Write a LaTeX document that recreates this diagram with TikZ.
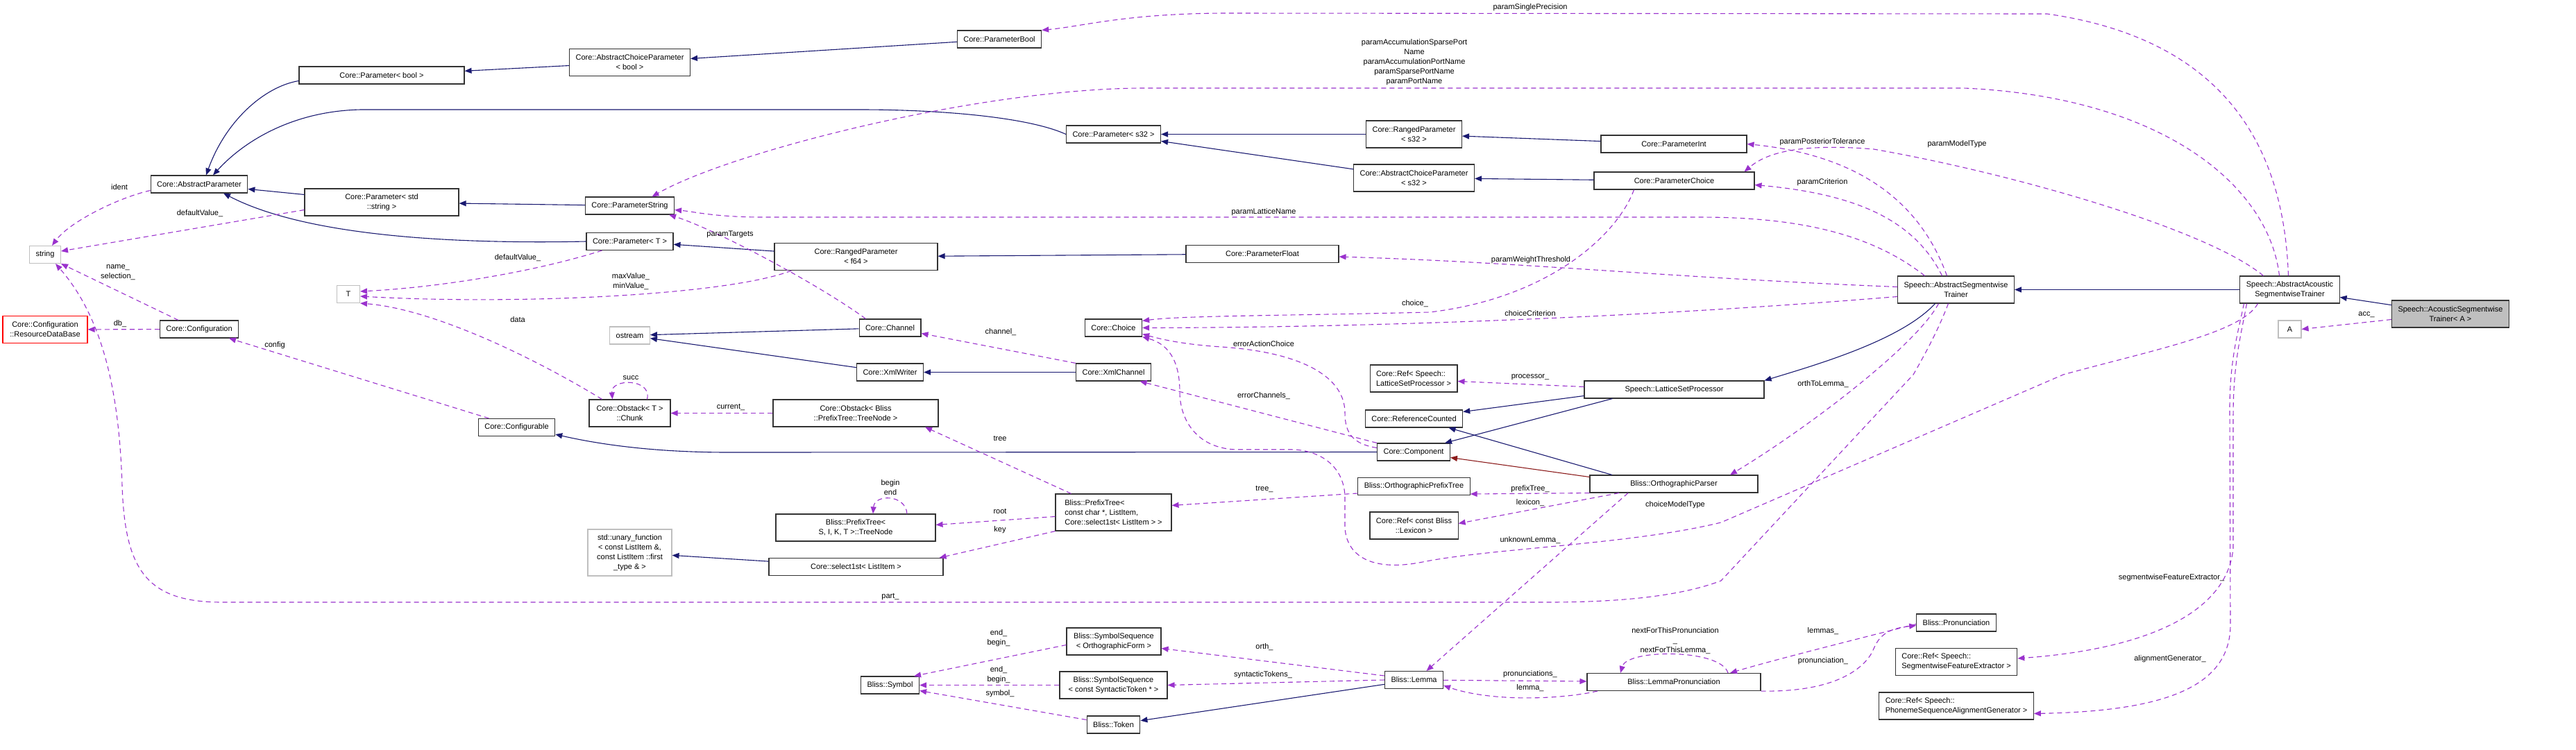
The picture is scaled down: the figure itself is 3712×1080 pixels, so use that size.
\documentclass[tikz,border=0pt]{standalone}
\usepackage{fontspec}
\setmainfont{Liberation Sans}
\usepackage{xcolor}
\usepackage{tikz}
\usetikzlibrary{arrows.meta, positioning}

\definecolor{inhblue}{HTML}{191970}
\definecolor{usepurple}{HTML}{9A32CD}
\definecolor{protred}{HTML}{8B1A1A}
\definecolor{extgray}{HTML}{BFBFBF}
\newcommand{\dgfont}{\fontsize{11}{14}\selectfont}

\begin{document}
\begin{tikzpicture}[
    x=1pt, y=-1pt,
    classnode/.style={rectangle, draw=black!80, line width=1.1pt, fill=white, font=\dgfont, inner xsep=9pt, inner ysep=0pt, minimum height=25pt, align=center},
    extnode/.style={classnode, draw=extgray},
    mainnode/.style={classnode, fill=extgray},
    missingnode/.style={classnode, draw=red},
    twolines/.style={minimum height=39pt},
    threelines/.style={minimum height=53pt},
    fourlines/.style={minimum height=67pt},
    inharr/.style={-{Triangle[length=10pt, width=8pt]}, line width=1.1pt, inhblue},
    protarr/.style={inharr, protred},
    usearr/.style={-{Triangle[length=10pt, width=8pt]}, line width=1.1pt, usepurple, dash pattern=on 7pt off 5pt},
    lbl/.style={font=\dgfont, inner sep=0pt, align=center}
]
\useasboundingbox (0,0) rectangle (3712,1080);

% Parameters
\node[classnode] (pbool) at (1440,56.5) {Core::ParameterBool};
\node[classnode, twolines] (acpbool) at (907.5,90) {Core::AbstractChoiceParameter\\< bool >};
\node[classnode, minimum width=238pt] (parbool) at (550,108.5) {Core::Parameter< bool >};
\node[classnode] (absparam) at (287,265.5) {Core::AbstractParameter};
\node[classnode] (pars32) at (1604.5,193.5) {Core::Parameter< s32 >};
\node[classnode, twolines] (rps32) at (2037.5,193.5) {Core::RangedParameter\\< s32 >};
\node[classnode, twolines] (acps32) at (2037.5,256.5) {Core::AbstractChoiceParameter\\< s32 >};
\node[classnode, minimum width=210pt] (pint) at (2412,207.5) {Core::ParameterInt};
\node[classnode, minimum width=231pt] (pchoice) at (2412.5,260.5) {Core::ParameterChoice};
\node[classnode, twolines, minimum width=222pt] (parstd) at (550,291.5) {Core::Parameter< std\\::string >};
\node[classnode] (pstring) at (907.5,296.5) {Core::ParameterString};
\node[classnode] (parT) at (907.5,348) {Core::Parameter< T >};
\node[classnode, twolines, minimum width=235pt] (rpf64) at (1233.5,370) {Core::RangedParameter\\< f64 >};
\node[classnode, minimum width=220pt] (pfloat) at (1819,366) {Core::ParameterFloat};

% Trainers
\node[classnode, twolines] (ast) at (2818.5,417.5) {Speech::AbstractSegmentwise\\Trainer};
\node[classnode, twolines] (aast) at (3299.5,417.5) {Speech::AbstractAcoustic\\SegmentwiseTrainer};
\node[mainnode, twolines] (asta) at (3531,452.5) {Speech::AcousticSegmentwise\\Trainer< A >};
\node[extnode, minimum width=33pt] (nodeA) at (3299.5,474.5) {A};

% Core helpers
\node[extnode] (strnode) at (65,367) {string};
\node[extnode, minimum width=33pt] (tT) at (502,424) {T};
\node[missingnode, twolines, minimum width=122pt] (rdb) at (65,475) {Core::Configuration\\::ResourceDataBase};
\node[classnode] (config) at (287,474.5) {Core::Configuration};
\node[classnode] (configurable) at (744.5,616) {Core::Configurable};
\node[extnode] (ostream) at (907.5,483.5) {ostream};
\node[classnode] (channel) at (1282.5,472.5) {Core::Channel};
\node[classnode] (xmlwriter) at (1282.5,536.5) {Core::XmlWriter};
\node[classnode] (xmlchannel) at (1604.5,536.5) {Core::XmlChannel};
\node[classnode] (choice) at (1604.5,472.5) {Core::Choice};
\node[classnode, twolines, minimum width=117pt] (chunk) at (907.5,595.5) {Core::Obstack< T >\\::Chunk};
\node[classnode, twolines, minimum width=238pt] (obstack) at (1233,595.5) {Core::Obstack< Bliss\\::PrefixTree::TreeNode >};
\node[classnode, twolines, align=left] (reflsp) at (2037,545.5) {Core::Ref< Speech::\\LatticeSetProcessor >};
\node[classnode, minimum width=259pt] (lsp) at (2412.5,561.5) {Speech::LatticeSetProcessor};
\node[classnode] (refcount) at (2037.5,603.5) {Core::ReferenceCounted};
\node[classnode] (component) at (2037,651.5) {Core::Component};

% Lexicon
\node[classnode, twolines, minimum width=230pt] (treenode) at (1233,760.5) {Bliss::PrefixTree<\\S, I, K, T >::TreeNode};
\node[classnode, threelines, align=left, minimum width=167pt] (prefixtree) at (1604.5,738.5) {Bliss::PrefixTree<\\ const char *, ListItem,\\ Core::select1st< ListItem > >};
\node[classnode] (opt) at (2037.5,701) {Bliss::OrthographicPrefixTree};
\node[classnode, minimum width=242pt] (oparser) at (2412,697.5) {Bliss::OrthographicParser};
\node[classnode, twolines] (reflex) at (2037.5,757.5) {Core::Ref< const Bliss\\::Lexicon >};
\node[extnode, fourlines, minimum width=121pt] (unary) at (907.5,796.5) {std::unary\_function\\< const ListItem \&,\\ const ListItem ::first\\\_type \& >};
\node[classnode, minimum width=251pt] (select) at (1233.5,817) {Core::select1st< ListItem >};
\node[classnode] (pron) at (2819,897.5) {Bliss::Pronunciation};
\node[classnode, twolines, align=left] (refsfe) at (2819,954) {Core::Ref< Speech::\\SegmentwiseFeatureExtractor >};
\node[classnode, twolines, align=left] (refpsag) at (2819,1017.5) {Core::Ref< Speech::\\PhonemeSequenceAlignmentGenerator >};
\node[classnode, twolines, minimum width=136pt] (ssorth) at (1605,924.5) {Bliss::SymbolSequence\\< OrthographicForm >};
\node[classnode] (symbol) at (1282.5,987.5) {Bliss::Symbol};
\node[classnode, twolines, minimum width=155pt] (sssyn) at (1604.5,987.5) {Bliss::SymbolSequence\\< const SyntacticToken * >};
\node[classnode] (lemma) at (2037.5,980) {Bliss::Lemma};
\node[classnode, minimum width=250pt] (lemmapron) at (2412,983) {Bliss::LemmaPronunciation};
\node[classnode] (token) at (1604.5,1044.5) {Bliss::Token};

% Inheritance
\draw[inharr] (pbool) -- (acpbool);
\draw[inharr] (acpbool) -- (parbool);
\draw[inharr] ([yshift=-8pt]parbool.west) .. controls (380,125) and (325,175) .. ([xshift=10pt]absparam.north);
\draw[inharr] (pars32.west) .. controls (1480,168) and (1350,158) .. (1240,158) -- (520,158) .. controls (420,160) and (350,205) .. ([xshift=20pt]absparam.north);
\draw[inharr] (rps32) -- (pars32);
\draw[inharr] (acps32) -- (pars32);
\draw[inharr] (pint) -- (rps32);
\draw[inharr] (pchoice) -- (acps32);
\draw[inharr] (parstd) -- (absparam);
\draw[inharr] (pstring) -- (parstd);
\draw[inharr] (parT.west) .. controls (650,352) and (440,340) .. ([xshift=35pt]absparam.south);
\draw[inharr] (rpf64) -- (parT);
\draw[inharr] (pfloat) -- (rpf64);
\draw[inharr] ([xshift=-30pt]ast.south) .. controls (2740,490) and (2620,525) .. (lsp.north east);
\draw[inharr] (aast) -- (ast);
\draw[inharr] (asta) -- (aast);
\draw[inharr] (channel) -- (ostream);
\draw[inharr] (xmlwriter) -- (ostream);
\draw[inharr] (xmlchannel) -- (xmlwriter);
\draw[inharr] ([yshift=-9pt]lsp.west) -- ([yshift=10pt]refcount.east);
\draw[inharr] ([xshift=-89pt]lsp.south) -- ([xshift=45pt]component.north);
\draw[inharr] ([xshift=-89pt]oparser.north) -- ([xshift=50pt]refcount.south);
\draw[protarr] ([yshift=10pt]oparser.west) -- ([yshift=-8pt]component.east);
\draw[inharr] (component.west) -- (1050,652) .. controls (950,652) and (870,642) .. ([yshift=-10pt]configurable.east);
\draw[inharr] (select) -- (unary);
\draw[inharr] (lemma) -- (token);

% Members
\draw[usearr] ([yshift=-9pt]absparam.west) .. controls (170,285) and (100,320) .. ([xshift=10pt]strnode.north);
\draw[usearr] ([yshift=-11pt]parstd.west) -- ([yshift=5pt]strnode.east);
\draw[usearr] ([xshift=-30pt]config.north) -- (strnode.south east);
\draw[usearr] ([xshift=-11pt]ast.south) .. controls (2795,470) and (2780,500) .. (2757,540) -- (2480,837) .. controls (2420,860) and (2330,868) .. (2230,868) -- (320,868) .. controls (210,868) and (180,820) .. (176,700) .. controls (172,570) and (150,460) .. ([xshift=15pt]strnode.south);
\draw[usearr] ([xshift=10pt]channel.north west) .. controls (1180,410) and (1030,330) .. ([xshift=-8pt]pstring.south east);
\draw[usearr] ([xshift=-40pt]parT.south) .. controls (760,395) and (620,415) .. ([yshift=4pt]tT.east);
\draw[usearr] ([xshift=25pt]rpf64.south west) .. controls (1050,425) and (750,440) .. ([yshift=-3pt]tT.east);
\draw[usearr] ([xshift=-40pt]chunk.north) .. controls (760,510) and (620,445) .. (tT.south east);
\draw[usearr] ([xshift=25pt]chunk.north) .. controls (940,545) and (880,545) .. ([xshift=-25pt]chunk.north);
\draw[usearr] (obstack) -- (chunk);
\draw[usearr] (config) -- (rdb);
\draw[usearr] ([xshift=-40pt]configurable.north) -- ([xshift=43pt]config.south);
\draw[usearr] ([xshift=-2pt]aast.north) .. controls (3292,240) and (3230,60) .. (2950,20) -- (1760,19) .. controls (1620,20) and (1560,38) .. (pbool.north east);
\draw[usearr] ([xshift=-15pt]aast.north) .. controls (3270,270) and (3120,140) .. (2830,127) -- (1640,127) .. controls (1400,130) and (1050,220) .. ([xshift=32pt]pstring.north);
\draw[usearr] ([xshift=-45pt]ast.north) .. controls (2700,340) and (2600,313) .. (2450,313) -- (1100,313) .. controls (1030,313) and (1000,305) .. ([yshift=-6pt]pstring.east);
\draw[usearr] ([xshift=-13pt]ast.north) .. controls (2770,300) and (2690,225) .. (pint.east);
\draw[usearr] ([xshift=-38pt]aast.north) .. controls (3180,330) and (2900,250) .. (2700,215) .. controls (2580,205) and (2540,225) .. ([xshift=-15pt]pchoice.north east);
\draw[usearr] ([xshift=-20pt]ast.north) .. controls (2760,320) and (2680,280) .. ([yshift=-6pt]pchoice.east);
\draw[usearr] ([yshift=4pt]ast.west) .. controls (2400,400) and (2200,378) .. ([yshift=-4pt]pfloat.east);
\draw[usearr] ([xshift=-58pt]pchoice.south) .. controls (2330,340) and (2230,430) .. (2060,450) .. controls (1850,455) and (1700,455) .. ([yshift=10pt]choice.east);
\draw[usearr] ([yshift=-10pt]ast.west) .. controls (2400,455) and (2000,472) .. (choice.east);
\draw[usearr] ([yshift=6pt]component.west) .. controls (1950,640) and (1938,625) .. (1938,595) .. controls (1938,545) and (1880,508) .. (1760,500) .. controls (1700,496) and (1670,488) .. ([yshift=-9pt]choice.east);
\draw[usearr] (component.north west) -- ([xshift=38pt]xmlchannel.south);
\draw[usearr] ([xshift=-46pt]aast.south) .. controls (3230,480) and (3100,505) .. (2973,540) -- (2480,753) .. controls (2350,785) and (2150,790) .. (2050,810) .. controls (1975,825) and (1940,800) .. (1938,760) -- (1938,715) .. controls (1936,670) and (1900,648) .. (1860,648) -- (1780,648) .. controls (1720,645) and (1700,600) .. (1700,565) .. controls (1700,515) and (1680,495) .. (choice.south east);
\draw[usearr] (xmlchannel.north west) -- ([yshift=-8pt]channel.east);
\draw[usearr] ([xshift=-61pt]prefixtree.north) -- ([xshift=100pt]obstack.south);
\draw[usearr] ([yshift=-6pt]prefixtree.west) -- ([yshift=4pt]treenode.east);
\draw[usearr] (prefixtree.south west) -- ([xshift=-6pt]select.north east);
\draw[usearr] ([xshift=74pt]treenode.north) .. controls (1305,712) and (1260,712) .. ([xshift=25pt]treenode.north);
\draw[usearr] ([yshift=-10pt]opt.west) -- ([yshift=10pt]prefixtree.east);
\draw[usearr] (oparser.south west) -- ([yshift=-11pt]opt.east);
\draw[usearr] ([xshift=-79pt]oparser.south) -- ([yshift=3pt]reflex.east);
\draw[usearr] ([yshift=4pt]lsp.west) -- ([yshift=-4pt]reflsp.east);
\draw[usearr] ([xshift=-66pt]oparser.south) -- ([xshift=18pt]lemma.north);
\draw[usearr] ([xshift=-25pt]ast.south) .. controls (2760,500) and (2600,620) .. ([xshift=81pt]oparser.north);
\draw[usearr] ([yshift=-2pt]pron.west) .. controls (2700,915) and (2560,950) .. ([xshift=81pt]lemmapron.north);
\draw[usearr] (lemmapron.south east) .. controls (2650,998) and (2690,960) .. (2700,935) .. controls (2710,910) and (2730,905) .. ([yshift=-4pt]pron.west);
\draw[usearr] ([xshift=78pt]lemmapron.north) .. controls (2480,935) and (2345,935) .. ([xshift=-77pt]lemmapron.north);
\draw[usearr] (lemma) -- (lemmapron);
\draw[usearr] ([xshift=-110pt]lemmapron.south) .. controls (2250,1008) and (2150,1012) .. ([yshift=-8pt]lemma.east);
\draw[usearr] ([yshift=6pt]lemma.west) -- ([yshift=-10pt]ssorth.east);
\draw[usearr] (lemma.west) -- (sssyn.east);
\draw[usearr] ([yshift=-5pt]ssorth.west) -- ([xshift=-8pt]symbol.north east);
\draw[usearr] (sssyn.west) -- (symbol.east);
\draw[usearr] ([yshift=7pt]token.west) -- ([yshift=-8pt]symbol.east);
\draw[usearr] ([xshift=-62pt]aast.south) .. controls (3230,480) and (3218,520) .. (3218,600) -- (3218,790) .. controls (3210,880) and (3100,935) .. ([yshift=5pt]refsfe.east);
\draw[usearr] ([xshift=-66pt]aast.south) .. controls (3225,480) and (3212,520) .. (3213,600) -- (3214,900) .. controls (3214,990) and (3120,1025) .. ([yshift=-11pt]refpsag.east);
\draw[usearr] ([yshift=-8pt]asta.west) -- (nodeA.east);

% Member labels
\node[lbl] (lbIdent) at (172,270) {ident};
\node[lbl] (lbDefStr) at (288,308) {defaultValue\_};
\node[lbl] (lbNameSel) at (170,392.5) {name\_\\selection\_};
\node[lbl] (lbDb) at (173,467) {db\_};
\node[lbl] (lbConfig) at (396,498) {config};
\node[lbl] (lbDefT) at (746,372) {defaultValue\_};
\node[lbl] (lbMinMax) at (909,405.5) {maxValue\_\\minValue\_};
\node[lbl] (lbData) at (746,461) {data};
\node[lbl] (lbSucc) at (909,545) {succ};
\node[lbl] (lbCurrent) at (1053,587) {current\_};
\node[lbl] (lbTargets) at (1052,338) {paramTargets};
\node[lbl] (lbChannel) at (1442,479) {channel\_};
\node[lbl] (lbTree) at (1441,632) {tree};
\node[lbl] (lbBeginEnd) at (1283,702.5) {begin\\end};
\node[lbl] (lbRoot) at (1441,737) {root};
\node[lbl] (lbKey) at (1441,764) {key};
\node[lbl] (lbPart) at (1283,860) {part\_};
\node[lbl] (lbOrthSym) at (1439,919.5) {end\_\\begin\_};
\node[lbl] (lbSynSym) at (1439,973) {end\_\\begin\_};
\node[lbl] (lbSymbol) at (1441,1000) {symbol\_};
\node[lbl] (lbSingle) at (2205,11) {paramSinglePrecision};
\node[lbl] (lbPorts) at (2038,90) {paramAccumulationSparsePort\\Name\\paramAccumulationPortName\\paramSparsePortName\\paramPortName};
\node[lbl] (lbLattice) at (1821,306) {paramLatticeName};
\node[lbl] (lbWeight) at (2206,375) {paramWeightThreshold};
\node[lbl] (lbChoice) at (2039,438) {choice\_};
\node[lbl] (lbCriterion) at (2205,452) {choiceCriterion};
\node[lbl] (lbErrAction) at (1821,496) {errorActionChoice};
\node[lbl] (lbProcessor) at (2205,544) {processor\_};
\node[lbl] (lbErrChannels) at (1821,571) {errorChannels\_};
\node[lbl] (lbTreeM) at (1822,705) {tree\_};
\node[lbl] (lbPrefixTree) at (2205,705) {prefixTree\_};
\node[lbl] (lbLexicon) at (2205,725) {lexicon\_};
\node[lbl] (lbModelType) at (2414,728) {choiceModelType};
\node[lbl] (lbUnknown) at (2205,779) {unknownLemma\_};
\node[lbl] (lbOrth) at (1822,933) {orth\_};
\node[lbl] (lbSyntactic) at (1820,973) {syntacticTokens\_};
\node[lbl] (lbProns) at (2205,972) {pronunciations\_};
\node[lbl] (lbLemma) at (2205,992) {lemma\_};
\node[lbl] (lbNext) at (2414,924) {nextForThisPronunciation\\\_\\nextForThisLemma\_};
\node[lbl] (lbPosterior) at (2626,205) {paramPosteriorTolerance};
\node[lbl] (lbParamModel) at (2820,208) {paramModelType};
\node[lbl] (lbParamCrit) at (2626,263) {paramCriterion};
\node[lbl] (lbOrthToLemma) at (2627,554) {orthToLemma\_};
\node[lbl] (lbLemmas) at (2627,910) {lemmas\_};
\node[lbl] (lbPron) at (2627,953) {pronunciation\_};
\node[lbl] (lbSfe) at (3129,833) {segmentwiseFeatureExtractor\_};
\node[lbl] (lbAlign) at (3127,950) {alignmentGenerator\_};
\node[lbl] (lbAcc) at (3410,454) {acc\_};

\end{tikzpicture}
\end{document}
